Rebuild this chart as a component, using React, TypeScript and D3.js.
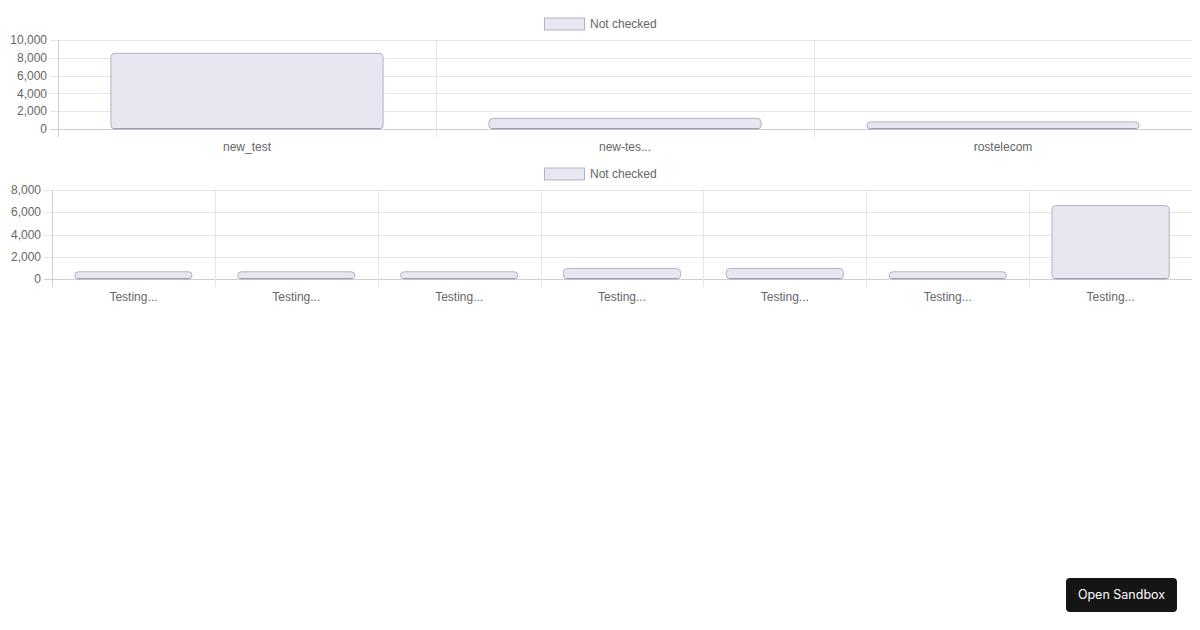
import * as d3 from 'd3';

// Top chart: projects
const projectNames = ['new_test', 'new-tes...', 'rostelecom'];
const projectValues = [8500, 1200, 800];
const projectTicks = [0, 2000, 4000, 6000, 8000, 10000];

// Bottom chart: test runs
const runNames = ['Testing...', 'Testing...', 'Testing...', 'Testing...', 'Testing...', 'Testing...', 'Testing...'];
const runValues = [650, 650, 650, 950, 950, 650, 6600];
const runTicks = [0, 2000, 4000, 6000, 8000];

const seriesLabel = 'Not checked';

const FONT = '"Liberation Sans", Arial, Helvetica, sans-serif';
const BAR_FILL = '#e7e7f1';
const BAR_STROKE = '#b3b3c3';
const GRID = '#e5e5e5';
const AXIS = '#cfcfcf';
const TEXT = '#666';

type PanelProps = {
  names: string[];
  values: number[];
  ticks: number[];
  left: number;
  top: number;
  bottom: number;
  legendY: number;
};

function BarPanel({ names, values, ticks, left, top, bottom, legendY }: PanelProps) {
  const right = 1192;
  const x = d3.scaleBand<number>().domain(names.map((_, i) => i)).range([left, right]);
  const y = d3.scaleLinear().domain([0, d3.max(ticks) as number]).range([bottom, top]);
  const barW = x.bandwidth() * 0.72;

  return (
    <g>
      {/* legend */}
      <rect x={544.5} y={legendY - 6} width={40} height={12} fill={BAR_FILL} stroke={BAR_STROKE} strokeWidth={1} />
      <text x={590} y={legendY} dy="0.35em" fontSize={12} fill={TEXT}>{seriesLabel}</text>

      {/* horizontal grid + y ticks */}
      {ticks.map((t) => (
        <g key={t}>
          <line x1={left - 8} x2={right} y1={Math.round(y(t)) + 0.5} y2={Math.round(y(t)) + 0.5}
            stroke={t === 0 ? AXIS : GRID} />
          <text x={left - 11} y={y(t)} dy="0.35em" textAnchor="end" fontSize={12} fill={TEXT}>
            {d3.format(',')(t)}
          </text>
        </g>
      ))}

      {/* vertical grid at category boundaries */}
      {names.map((_, i) => (
        <line key={i} x1={Math.round(x(i) as number) + 0.5} x2={Math.round(x(i) as number) + 0.5}
          y1={top} y2={bottom + 8} stroke={i === 0 ? AXIS : GRID} />
      ))}

      {/* bars */}
      {values.map((v, i) => {
        const cx = (x(i) as number) + x.bandwidth() / 2;
        const h = bottom - y(v);
        return (
          <g key={i}>
            <rect x={cx - barW / 2} y={y(v)} width={barW} height={h}
              rx={Math.min(4, h / 2)} fill={BAR_FILL} stroke={BAR_STROKE} strokeWidth={1} />
            <line x1={cx - barW / 2 + 3} x2={cx + barW / 2 - 3} y1={bottom - 0.5} y2={bottom - 0.5}
              stroke="#9d9db3" />
          </g>
        );
      })}

      {/* x labels */}
      {names.map((n, i) => (
        <text key={i} x={(x(i) as number) + x.bandwidth() / 2} y={bottom + 18} dy="0.35em"
          textAnchor="middle" fontSize={12} fill={TEXT}>{n}</text>
      ))}
    </g>
  );
}

export default function App() {
  return (
    <svg width={1200} height={630} style={{ position: 'absolute', left: 0, top: 0, background: '#fff' }}
      fontFamily={FONT}>
      <BarPanel names={projectNames} values={projectValues} ticks={projectTicks}
        left={58} top={40} bottom={129} legendY={24} />
      <BarPanel names={runNames} values={runValues} ticks={runTicks}
        left={52} top={190} bottom={279} legendY={174} />

      <rect x={1066} y={578} width={111} height={34} rx={4} fill="#151515" />
      <text x={1121.5} y={594.5} dy="0.35em" textAnchor="middle" fontSize={12.5}
        fontFamily='Inter, "Noto Sans", sans-serif' fill="#fff">Open Sandbox</text>
    </svg>
  );
}
